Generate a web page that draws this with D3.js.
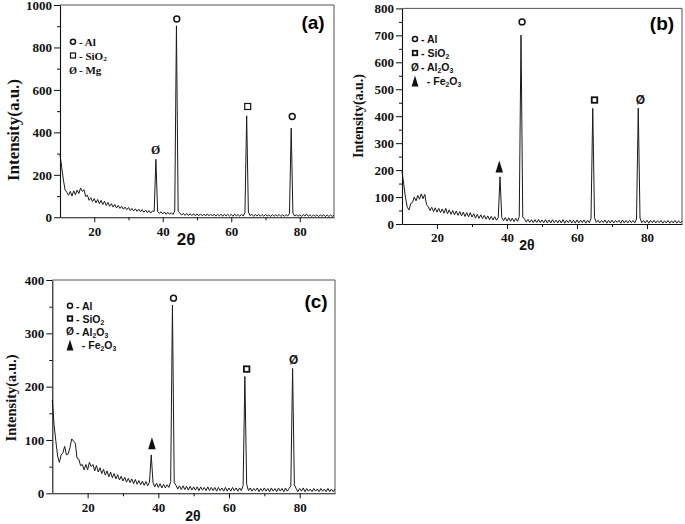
<!DOCTYPE html>
<html><head><meta charset="utf-8">
<script src="https://cdn.jsdelivr.net/npm/d3@7"></script>
<style>body{margin:0;background:#fff} svg{display:block}</style>
</head><body><svg id="chart" width="685" height="524"></svg>
<script>
// ---------- DATA ----------
// 2θ sampling grid (degrees), 10° to 90° every 0.5°
const twoTheta = d3.range(10, 90.001, 0.5);

// (a) intensity
const intensityA = [
  295,235,175,128,118,104,122,100,125,106,
  128,112,138,122,130,98,104,80,92,74,
  88,68,84,64,80,60,76,56,70,52,
  64,48,60,44,56,42,52,38,48,36,
  46,32,42,30,40,28,38,26,36,24,
  34,22,32,20,30,28,273,28,18,26,
  16,25,14,24,14,22,13,30,902,28,
  20,10,19,9,18,8,17,8,17,7,
  16,7,16,7,15,6,16,7,15,6,
  15,6,14,7,15,5,14,6,14,6,
  14,5,15,6,13,5,14,6,22,478,
  25,8,14,5,13,6,14,5,13,5,
  13,6,12,4,13,5,12,6,13,4,
  12,5,13,6,18,420,20,6,12,5,
  12,4,13,6,15,5,12,4,11,5,
  12,4,11,5,12,3,11,4,11,4,
  10
];
// (b)
const intensityB = [
  195,148,98,62,52,76,80,100,86,106,
  92,112,94,110,72,64,50,62,46,60,
  44,58,42,56,40,58,38,52,36,50,
  34,48,32,46,30,44,28,42,27,42,
  26,38,22,36,21,34,20,32,18,30,
  16,28,15,27,14,24,175,24,12,24,
  11,23,10,22,9,21,10,28,701,26,
  18,7,17,6,16,5,16,6,17,5,
  15,5,16,4,15,4,16,5,14,4,
  15,4,16,3,14,5,15,4,14,3,
  15,4,14,5,15,3,14,5,20,429,
  24,6,14,4,13,5,15,3,14,4,
  14,4,13,6,14,3,15,4,13,4,
  14,5,13,4,18,430,22,5,13,4,
  14,3,13,5,14,4,12,5,13,3,
  12,4,13,3,12,4,13,3,12,4,
  11
];
// (c)
const intensityC = [
  175,128,98,70,58,72,76,88,72,74,
  86,102,98,94,66,64,52,54,44,54,
  44,58,50,54,42,52,40,48,37,45,
  34,42,31,40,29,37,27,35,25,32,
  23,30,21,28,20,27,18,26,17,24,
  16,23,15,22,14,21,72,20,12,19,
  11,18,10,17,10,16,11,22,353,20,
  15,8,14,7,14,7,13,6,13,6,
  12,6,12,5,12,6,11,5,12,5,
  11,5,11,4,11,5,10,4,11,4,
  10,4,11,5,10,4,10,5,15,219,
  17,5,10,4,9,5,10,3,9,4,
  10,4,9,3,10,4,9,3,10,4,
  9,3,10,4,9,14,234,16,9,3,
  9,4,10,3,9,4,8,3,9,4,
  8,3,9,4,8,3,9,3,8,3,
  8
];

const xTicks = [20, 40, 60, 80];
const xMinorTicks = [30, 50, 70];
const yTicksA = [0, 200, 400, 600, 800, 1000];
const yMinorA = [100, 300, 500, 700, 900];
const yTicksB = [0, 100, 200, 300, 400, 500, 600, 700, 800];
const yMinorB = [50, 150, 250, 350, 450, 550, 650, 750];
const yTicksC = [0, 100, 200, 300, 400];
const yMinorC = [50, 150, 250, 350];

// peak identification markers: symbol, 2θ, intensity level of the marker
const peakSymA = ["Ø", "o", "sq", "o"];
const peakPosA = [37.9, 44.1, 64.8, 77.8];
const peakLvlA = [317, 934, 522, 475];
const peakSymB = ["tri", "o", "sq", "Ø"];
const peakPosB = [37.8, 44.3, 65.0, 78.1];
const peakLvlB = [213, 750, 460, 460];
const peakSymC = ["tri", "o", "sq", "Ø"];
const peakPosC = [38.2, 44.3, 65.0, 78.3];
const peakLvlC = [94, 366, 233, 250];

// legends: symbol + label parts [text, isSubscript]
const legendA = [
  {sym: "o", parts: [["- Al", 0]]},
  {sym: "sq", parts: [["- SiO", 0], ["2", 1]]},
  {sym: "Ø", parts: [["- Mg", 0]]}
];
const legendBC = [
  {sym: "o", parts: [["- Al", 0]]},
  {sym: "sq", parts: [["- SiO", 0], ["2", 1]]},
  {sym: "Ø", parts: [["- Al", 0], ["2", 1], ["O", 0], ["3", 1]]},
  {sym: "tri", parts: [["  - Fe", 0], ["2", 1], ["O", 0], ["3", 1]]}
];

const yTitle = "Intensity(a.u.)";
const xTitle = "2θ";

// ---------- DRAW ----------
const svg = d3.select("#chart");
const SERIF = "'Liberation Serif','Times New Roman',serif";
const SANS = "'Liberation Sans',Arial,sans-serif";

function drawPanel(c) {
  const g = svg.append("g");
  const x = d3.scaleLinear().domain([10, 90]).range([c.left, c.right]);
  const y = d3.scaleLinear().domain([0, c.yMax]).range([c.bottom, c.top]);

  // frame (top & right)
  g.append("path")
    .attr("d", `M${c.left},${c.top}H${c.right}V${c.bottom}`)
    .attr("fill", "none").attr("stroke", "#555").attr("stroke-width", 1);

  // data line
  const pts = twoTheta.map((t, i) => [t, c.data[i]]);
  g.append("path")
    .datum(pts)
    .attr("fill", "none")
    .attr("stroke", "#1a1a1a")
    .attr("stroke-width", 1)
    .attr("d", d3.line().x(d => x(d[0])).y(d => y(d[1])));

  // axes
  const fmt = d3.format("d");
  const yAx = g.append("g").attr("transform", `translate(${c.left},0)`)
    .call(d3.axisLeft(y).tickValues(c.yTicks).tickFormat(fmt).tickSize(6).tickSizeOuter(0).tickPadding(2));
  g.append("g").attr("transform", `translate(${c.left},0)`)
    .call(d3.axisLeft(y).tickValues(c.yMinor).tickSize(3).tickFormat(""))
    .select(".domain").remove();
  const xAx = g.append("g").attr("transform", `translate(0,${c.bottom})`)
    .call(d3.axisBottom(x).tickValues(xTicks).tickFormat(fmt).tickSize(5).tickSizeOuter(0).tickPadding(c.xPad));
  g.append("g").attr("transform", `translate(0,${c.bottom})`)
    .call(d3.axisBottom(x).tickValues(xMinorTicks).tickSize(3).tickFormat(""))
    .select(".domain").remove();
  [yAx, xAx].forEach(a => {
    a.attr("font-family", SERIF).attr("font-size", c.tickFont);
    a.selectAll("text").attr("font-family", SERIF).attr("font-weight", "bold")
      .attr("font-size", c.tickFont).attr("fill", "#111");
  });
  g.selectAll(".domain").attr("stroke", "#111").attr("stroke-width", 1.1);
  g.selectAll(".tick line").attr("stroke", "#111");

  // axis titles
  g.append("text")
    .attr("transform", `translate(${c.yTitleX},${c.yTitleY}) rotate(-90)`)
    .attr("text-anchor", "middle").attr("dominant-baseline", "central")
    .attr("font-family", SERIF).attr("font-weight", "bold")
    .attr("font-size", c.yTitleFont).attr("fill", "#111")
    .text(yTitle);
  g.append("text")
    .attr("x", c.xTitleX).attr("y", c.xTitleY)
    .attr("text-anchor", "middle").attr("dominant-baseline", "central")
    .attr("font-family", SANS).attr("font-weight", "bold")
    .attr("font-size", c.xTitleFont).attr("fill", "#111")
    .text(xTitle);

  // panel letter
  g.append("text")
    .attr("x", c.tagX).attr("y", c.tagY)
    .attr("text-anchor", "middle").attr("dominant-baseline", "central")
    .attr("font-family", SANS).attr("font-weight", "bold")
    .attr("font-size", 19).attr("fill", "#000")
    .text(c.tag);

  // symbols
  function symbol(sel, sym, cx, cy, size, font, sqStroke) {
    if (sym === "sq") {
      sel.append("rect")
        .attr("x", cx - size / 2).attr("y", cy - size / 2)
        .attr("width", size).attr("height", size)
        .attr("fill", "none").attr("stroke", "#111").attr("stroke-width", sqStroke);
    } else if (sym === "tri") {
      const w = size * 0.75, h = size * 1.2;
      sel.append("path")
        .attr("d", `M${cx},${cy - h / 2}L${cx + w / 2},${cy + h / 2}L${cx - w / 2},${cy + h / 2}Z`)
        .attr("fill", "#111");
    } else if (sym === "o") {
      sel.append("circle")
        .attr("cx", cx).attr("cy", cy).attr("r", size * 0.42)
        .attr("fill", "none").attr("stroke", "#111").attr("stroke-width", 1.5);
    } else {
      sel.append("text")
        .attr("x", cx).attr("y", cy)
        .attr("text-anchor", "middle").attr("dominant-baseline", "central")
        .attr("font-family", font).attr("font-weight", "bold")
        .attr("font-size", size * 1.7).attr("fill", "#111")
        .text(sym);
    }
  }

  // peak markers
  c.peakSym.forEach((s, i) => {
    symbol(g, s, x(c.peakPos[i]), y(c.peakLvl[i]),
      s === "tri" ? 10 : (s === "sq" ? c.sqSize : 7), c.markFont, c.sqStroke);
  });

  // legend
  c.legend.forEach((it, i) => {
    const cy = c.legRows[i];
    symbol(g, it.sym, c.legX, cy, it.sym === "tri" ? 9 : (it.sym === "sq" ? c.sqSize - 1 : 6), c.legFont, c.sqStroke);
    const t = g.append("text")
      .attr("x", c.legX + 6).attr("y", cy)
      .attr("dominant-baseline", "central")
      .attr("font-family", c.legFont).attr("font-weight", "bold")
      .attr("font-size", c.legSize).attr("fill", "#111")
      .attr("xml:space", "preserve");
    let sub = false;
    it.parts.forEach(([txt, isSub]) => {
      const ts = t.append("tspan").text(txt);
      if (isSub && !sub) { ts.attr("dy", 3).attr("font-size", c.legSize * 0.65); sub = true; }
      else if (isSub) { ts.attr("font-size", c.legSize * 0.65); }
      else if (!isSub && sub) { ts.attr("dy", -3); sub = false; }
    });
  });
}

drawPanel({
  data: intensityA, yMax: 1000, yTicks: yTicksA, yMinor: yMinorA,
  left: 60, right: 334, top: 5, bottom: 217.3,
  tickFont: 13, xPad: 4,
  yTitleX: 13, yTitleY: 130, yTitleFont: 17,
  xTitleX: 186, xTitleY: 239, xTitleFont: 17,
  tag: "(a)", tagX: 313, tagY: 22,
  peakSym: peakSymA, peakPos: peakPosA, peakLvl: peakLvlA,
  markFont: SERIF, sqStroke: 1.2, sqSize: 6,
  legend: legendA, legX: 73, legRows: [41.7, 55.5, 70], legFont: SERIF, legSize: 11
});
drawPanel({
  data: intensityB, yMax: 800, yTicks: yTicksB, yMinor: yMinorB,
  left: 402, right: 682, top: 8.4, bottom: 224,
  tickFont: 13, xPad: 4,
  yTitleX: 358, yTitleY: 116, yTitleFont: 14,
  xTitleX: 527, xTitleY: 245, xTitleFont: 14,
  tag: "(b)", tagX: 662, tagY: 23,
  peakSym: peakSymB, peakPos: peakPosB, peakLvl: peakLvlB,
  markFont: SANS, sqStroke: 1.8, sqSize: 5.5,
  legend: legendBC, legX: 415, legRows: [39, 53, 67, 81], legFont: SANS, legSize: 10.5
});
drawPanel({
  data: intensityC, yMax: 400, yTicks: yTicksC, yMinor: yMinorC,
  left: 52.3, right: 335, top: 280, bottom: 493.3,
  tickFont: 13, xPad: 4,
  yTitleX: 11, yTitleY: 398, yTitleFont: 14.5,
  xTitleX: 193, xTitleY: 516, xTitleFont: 14,
  tag: "(c)", tagX: 316, tagY: 301,
  peakSym: peakSymC, peakPos: peakPosC, peakLvl: peakLvlC,
  markFont: SANS, sqStroke: 1.8, sqSize: 5.5,
  legend: legendBC, legX: 70, legRows: [305.7, 318.5, 331.5, 345], legFont: SANS, legSize: 10.5
});
</script>
</body></html>
